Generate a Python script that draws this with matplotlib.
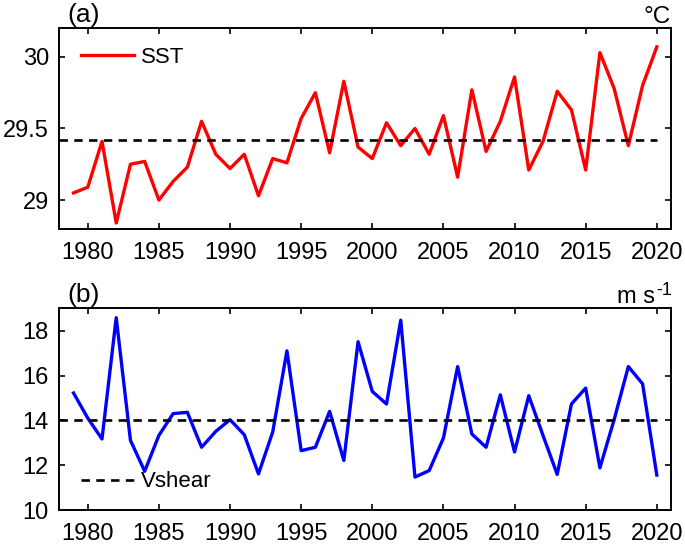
import numpy as np
import matplotlib
matplotlib.use("Agg")
import matplotlib.pyplot as plt

plt.rcParams["font.family"] = ["Liberation Sans", "DejaVu Sans"]

years = np.arange(1979, 2021)

sst = [29.05, 29.09, 29.41, 28.84, 29.25, 29.27, 29.00, 29.13, 29.23, 29.55,
       29.32, 29.22, 29.32, 29.03, 29.29, 29.26, 29.57, 29.75, 29.33, 29.83,
       29.37, 29.29, 29.54, 29.38, 29.50, 29.32, 29.59, 29.16, 29.77, 29.34,
       29.55, 29.86, 29.21, 29.41, 29.76, 29.63, 29.21, 30.03, 29.78, 29.38,
       29.80, 30.07]

vshear = [15.22, 14.10, 13.17, 18.58, 13.11, 11.73, 13.33, 14.30, 14.36, 12.80,
          13.51, 14.03, 13.36, 11.61, 13.48, 17.10, 12.65, 12.80, 14.40, 12.21,
          17.51, 15.29, 14.73, 18.47, 11.47, 11.76, 13.21, 16.40, 13.39, 12.80,
          15.14, 12.59, 15.10, 13.33, 11.59, 14.73, 15.44, 11.88, 14.03, 16.40,
          15.63, 11.56]

year_ticks = np.arange(1980, 2021, 5)
XLIM = (1978, 2021)

fig = plt.figure(figsize=(6.85, 5.47), dpi=100)
ax1 = fig.add_axes([0.0866, 0.5819, 0.893, 0.3664])
ax2 = fig.add_axes([0.0866, 0.0676, 0.893, 0.3688])

DASH = (0, (3.2, 2.4))


def style(ax):
    ax.set_xlim(*XLIM)
    ax.set_xticks(year_ticks)
    ax.tick_params(direction="in", top=True, right=True, length=4.5, width=1.2,
                   labelsize=17)
    ax.tick_params(axis="x", pad=9.5)
    ax.tick_params(axis="y", pad=7.5)
    for s in ax.spines.values():
        s.set_linewidth(1.4)


def mean_line(ax, vals, **kw):
    # dashed mean line runs from the left spine to the last year
    m = np.mean(vals)
    ax.plot([XLIM[0], years[-1]], [m, m], color="black", ls=DASH, lw=1.9, **kw)


# (a) SST
ax1.plot(years, sst, color="red", lw=2.4, label="SST")
mean_line(ax1, sst)
ax1.set_ylim(28.8, 30.2)
ax1.set_yticks([29, 29.5, 30])
ax1.set_yticklabels(["29", "29.5", "30"])
style(ax1)
ax1.legend(loc="center left", frameon=False, fontsize=16, handlelength=2.4,
           handletextpad=0.3, borderpad=0, borderaxespad=0,
           bbox_to_anchor=(0.035, 0.853))
ax1.text(0.013, 1.008, "(a)", transform=ax1.transAxes, fontsize=19, va="bottom")
ax1.text(1.0, 1.0, "\u00b0C", transform=ax1.transAxes, fontsize=17.5,
         ha="right", va="bottom")

# (b) vertical wind shear
ax2.plot(years, vshear, color="blue", lw=2.4)
mean_line(ax2, vshear, label="Vshear")
ax2.set_ylim(10, 19)
ax2.set_yticks([10, 12, 14, 16, 18])
style(ax2)
ax2.legend(loc="center left", frameon=False, fontsize=16, handlelength=2.4,
           handletextpad=0.3, borderpad=0, borderaxespad=0,
           bbox_to_anchor=(0.035, 0.14))
ax2.text(0.013, 1.008, "(b)", transform=ax2.transAxes, fontsize=19, va="bottom")
ax2.annotate("-1", xy=(1.0, 1.0), xycoords="axes fraction", xytext=(0.5, 6.5),
             textcoords="offset points", fontsize=13, ha="right", va="bottom")
ax2.annotate("m s", xy=(1.0, 1.0), xycoords="axes fraction", xytext=(-11.5, 0),
             textcoords="offset points", fontsize=17, ha="right", va="bottom")

fig.savefig("out.png", dpi=100)
